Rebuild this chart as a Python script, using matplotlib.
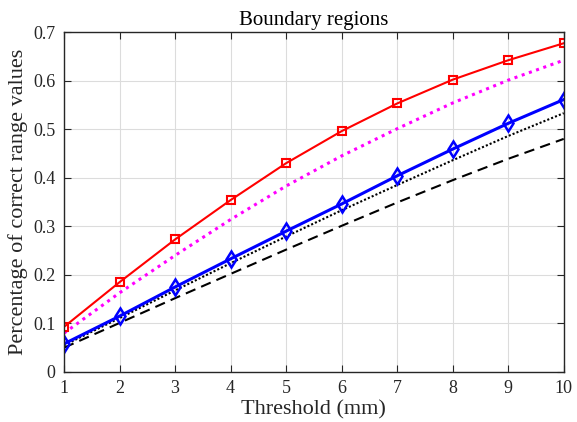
import matplotlib
matplotlib.use("Agg")
import matplotlib.pyplot as plt

plt.rcParams['font.family'] = ['Liberation Serif', 'DejaVu Serif']

thresholds = [1, 2, 3, 4, 5, 6, 7, 8, 9, 10]
red_sq = [0.093, 0.185, 0.273, 0.354, 0.430, 0.496, 0.553, 0.602, 0.642, 0.677]
magenta_dot = [0.080, 0.163, 0.240, 0.314, 0.383, 0.445, 0.501, 0.554, 0.601, 0.642]
blue_dia = [0.058, 0.115, 0.175, 0.233, 0.290, 0.346, 0.404, 0.459, 0.512, 0.561]
black_dot = [0.055, 0.111, 0.168, 0.224, 0.279, 0.333, 0.385, 0.436, 0.486, 0.533]
black_dash = [0.050, 0.101, 0.152, 0.202, 0.252, 0.301, 0.349, 0.395, 0.439, 0.480]

fig = plt.figure(figsize=(5.77, 4.22), dpi=100)
ax = fig.add_axes([0.111, 0.1185, 0.866, 0.8055])

ax.plot(thresholds, black_dash, color='black', linestyle=(0, (5, 3)), linewidth=1.5)
ax.plot(thresholds, black_dot, color='black', linestyle=(0, (1, 1)), linewidth=1.5)
ax.plot(thresholds, magenta_dot, color='#ff00ff', linestyle=(0, (1, 1.5)), linewidth=2.2)
ax.plot(thresholds, blue_dia, color='#0000ff', linewidth=2.2, marker='d', markersize=8,
        markerfacecolor='none', markeredgewidth=1.8)
ax.plot(thresholds, red_sq, color='#ff0000', linewidth=1.5, marker='s', markersize=5.5,
        markerfacecolor='none', markeredgewidth=1.5)

ax.set_xlim(1, 10)
ax.set_ylim(0, 0.7)
ax.set_xticks(thresholds)
ax.set_xticklabels([str(t) for t in thresholds])
yt = [0, 0.1, 0.2, 0.3, 0.4, 0.5, 0.6, 0.7]
ax.set_yticks(yt)
ax.set_yticklabels(['0'] + ['%.1f' % v for v in yt[1:]])
ax.grid(True, color='#dcdcdc', linewidth=0.8)
ax.set_axisbelow(True)
ax.tick_params(direction='in', top=True, right=True, length=5, colors='#262626',
               labelsize=13, labelcolor='#262626', pad=6)
for s in ax.spines.values():
    s.set_color('#262626')
    s.set_linewidth(1.0)

ax.set_title('Boundary regions', fontsize=15, pad=5)
ax.set_xlabel('Threshold (mm)', fontsize=16, color='#262626', labelpad=2)
ax.set_ylabel('Percentage of correct range values', fontsize=16, color='#262626', labelpad=4)

fig.savefig('out.png', dpi=100)
